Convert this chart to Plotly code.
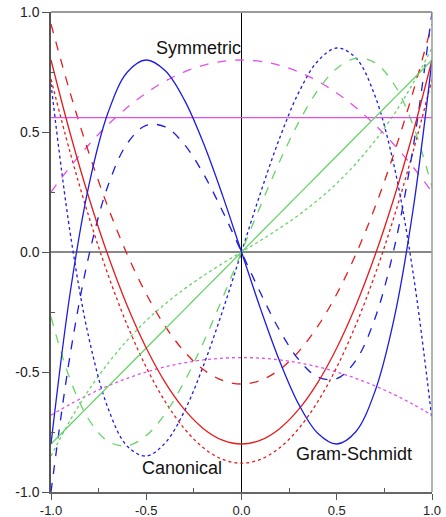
import plotly.graph_objects as go

# sample points along x
x = [-1.0, -0.9, -0.8, -0.7, -0.6, -0.5, -0.4, -0.3, -0.2, -0.1, 0.0,
     0.1, 0.2, 0.3, 0.4, 0.5, 0.6, 0.7, 0.8, 0.9, 1.0]

# Gram-Schmidt (solid)
gs_const = [0.56] * 21
gs_lin = [-0.80, -0.72, -0.64, -0.56, -0.48, -0.40, -0.32, -0.24, -0.16, -0.08, 0.0,
          0.08, 0.16, 0.24, 0.32, 0.40, 0.48, 0.56, 0.64, 0.72, 0.80]
gs_quad = [0.80, 0.496, 0.224, -0.016, -0.224, -0.40, -0.544, -0.656, -0.736, -0.784, -0.80,
           -0.784, -0.736, -0.656, -0.544, -0.40, -0.224, -0.016, 0.224, 0.496, 0.80]
gs_cub = [-0.80, -0.173, 0.282, 0.582, 0.749, 0.80, 0.755, 0.634, 0.454, 0.237, 0.0,
          -0.237, -0.454, -0.634, -0.755, -0.80, -0.749, -0.582, -0.282, 0.173, 0.80]

# Symmetric (dashed)
sy_const = [0.25, 0.3545, 0.448, 0.5305, 0.602, 0.6625, 0.712, 0.7505, 0.778, 0.7945, 0.80,
            0.7945, 0.778, 0.7505, 0.712, 0.6625, 0.602, 0.5305, 0.448, 0.3545, 0.25]
sy_lin = [-0.27, -0.530, -0.700, -0.789, -0.807, -0.765, -0.673, -0.540, -0.377, -0.193, 0.0,
          0.193, 0.377, 0.540, 0.673, 0.765, 0.807, 0.789, 0.700, 0.530, 0.27]
sy_quad = [0.95, 0.665, 0.41, 0.185, -0.01, -0.175, -0.31, -0.415, -0.49, -0.535, -0.55,
           -0.535, -0.49, -0.415, -0.31, -0.175, -0.01, 0.185, 0.41, 0.665, 0.95]
sy_cub = [-1.0, -0.431, -0.011, 0.278, 0.452, 0.528, 0.521, 0.448, 0.326, 0.171, 0.0,
          -0.171, -0.326, -0.448, -0.521, -0.528, -0.452, -0.278, 0.011, 0.431, 1.0]

# Canonical (dotted)
ca_const = [-0.68, -0.6344, -0.5936, -0.5576, -0.5264, -0.50, -0.4784, -0.4616, -0.4496, -0.4424, -0.44,
            -0.4424, -0.4496, -0.4616, -0.4784, -0.50, -0.5264, -0.5576, -0.5936, -0.6344, -0.68]
ca_lin = [-0.85, -0.702, -0.573, -0.463, -0.368, -0.286, -0.216, -0.154, -0.099, -0.048, 0.0,
          0.048, 0.099, 0.154, 0.216, 0.286, 0.368, 0.463, 0.573, 0.702, 0.85]
ca_quad = [0.72, 0.416, 0.144, -0.096, -0.304, -0.48, -0.624, -0.736, -0.816, -0.864, -0.88,
           -0.864, -0.816, -0.736, -0.624, -0.48, -0.304, -0.096, 0.144, 0.416, 0.72]
ca_cub = [0.70, 0.083, -0.362, -0.652, -0.809, -0.85, -0.795, -0.664, -0.474, -0.247, 0.0,
          0.247, 0.474, 0.664, 0.795, 0.85, 0.809, 0.652, 0.362, -0.083, -0.70]

MAG = "#e050e8"
GRN = "#66d466"
RED = "#e41c1c"
BLU = "#1c1ce0"

series = [
    (ca_const, MAG, "dot"), (ca_lin, GRN, "dot"), (ca_quad, RED, "dot"), (ca_cub, BLU, "dot"),
    (sy_const, MAG, "dash"), (sy_lin, GRN, "dash"), (sy_quad, RED, "dash"), (sy_cub, BLU, "dash"),
    (gs_const, MAG, "solid"), (gs_lin, GRN, "solid"), (gs_quad, RED, "solid"), (gs_cub, BLU, "solid"),
]

fig = go.Figure()
for ys, col, dash in series:
    fig.add_trace(go.Scatter(x=x, y=ys, mode="lines",
                             line=dict(color=col, width=1.3, dash=dash, shape="spline", smoothing=1.0),
                             showlegend=False, hoverinfo="skip"))

fig.add_annotation(x=-0.225, y=0.85, text="Symmetric", showarrow=False,
                   font=dict(family="Liberation Sans", size=18, color="#111"))
fig.add_annotation(x=-0.31, y=-0.90, text="Canonical", showarrow=False,
                   font=dict(family="Liberation Sans", size=18, color="#111"))
fig.add_annotation(x=0.59, y=-0.84, text="Gram-Schmidt", showarrow=False,
                   font=dict(family="Liberation Sans", size=18, color="#111"))

# top and right frame lines
fig.add_shape(type="line", xref="paper", yref="paper", x0=0, x1=1, y0=1, y1=1,
              line=dict(color="#9a9a9a", width=2))
fig.add_shape(type="line", xref="paper", yref="paper", x0=1, x1=1, y0=0, y1=1,
              line=dict(color="#9a9a9a", width=1.5))

fig.update_xaxes(range=[-1, 1], tickvals=[-1, -0.5, 0, 0.5, 1],
                 ticktext=["-1.0", "-0.5", "0.0", "0.5", "1.0"], automargin=False,
                 ticks="outside", ticklen=6, tickcolor="#555",
                 showline=True, linecolor="#666", linewidth=1.5,
                 showgrid=False, zeroline=True, zerolinecolor="#000", zerolinewidth=1,
                 minor=dict(tickvals=[-0.75, -0.25, 0.25, 0.75], ticks="inside",
                            ticklen=4, tickcolor="#555"),
                 tickfont=dict(family="Liberation Sans", size=13, color="#222"))
fig.update_yaxes(range=[-1, 1], tickvals=[-1, -0.5, 0, 0.5, 1],
                 ticktext=["-1.0", "-0.5", "0.0", "0.5", "1.0"], automargin=False,
                 ticks="outside", ticklen=7, tickcolor="#555",
                 showline=True, linecolor="#555", linewidth=1.5,
                 showgrid=False, zeroline=True, zerolinecolor="#888", zerolinewidth=1.5,
                 minor=dict(tickvals=[-0.75, -0.25, 0.25, 0.75], ticks="inside",
                            ticklen=4, tickcolor="#555"),
                 tickfont=dict(family="Liberation Sans", size=14, color="#222"))

fig.update_layout(width=446, height=517, autosize=False,
                  margin=dict(l=51, r=14, t=12, b=25, pad=0),
                  paper_bgcolor="white", plot_bgcolor="white")

# drop the default page margin so the 446x517 figure fills the window exactly
fig.write_html("out.html", config={"displayModeBar": False},
               post_script="document.body.style.margin='0';")
